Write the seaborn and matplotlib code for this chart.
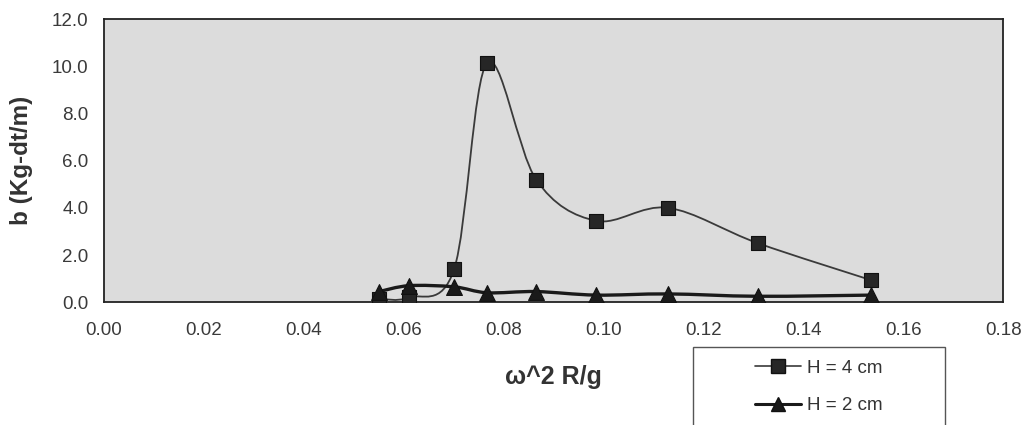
import numpy as np
import matplotlib
matplotlib.use("Agg")
import matplotlib.pyplot as plt
from matplotlib.path import Path
from matplotlib.patches import PathPatch, Rectangle
from matplotlib.lines import Line2D
import seaborn as sns
import pandas as pd

# ---- data ----
x_h4 = [0.0551, 0.0611, 0.0701, 0.0767, 0.0865, 0.0985, 0.1129, 0.1309, 0.1536]
y_h4 = [0.15, 0.20, 1.40, 10.15, 5.20, 3.45, 4.00, 2.50, 0.93]
x_h2 = [0.0551, 0.0611, 0.0701, 0.0767, 0.0865, 0.0985, 0.1129, 0.1309, 0.1536]
y_h2 = [0.45, 0.70, 0.65, 0.40, 0.45, 0.30, 0.35, 0.25, 0.30]
labels = ["H = 4 cm", "H = 2 cm"]
xticks = [0.00, 0.02, 0.04, 0.06, 0.08, 0.10, 0.12, 0.14, 0.16, 0.18]
yticks = [0.0, 2.0, 4.0, 6.0, 8.0, 10.0, 12.0]

sns.set_style("white")
plt.rcParams["font.family"] = ["Liberation Sans", "DejaVu Sans"]

fig = plt.figure(figsize=(10.28, 4.25), dpi=100)
ax = fig.add_axes([0.101, 0.289, 0.875, 0.666])
ax.set_facecolor("#dcdcdc")


def smooth_path(xs, ys, t=1.0 / 6.0):
    xs = np.asarray(xs, float)
    ys = np.asarray(ys, float)
    pts = np.column_stack([xs, ys])
    n = len(pts)
    verts = [pts[0]]
    codes = [Path.MOVETO]
    for i in range(n - 1):
        p0 = pts[i - 1] if i > 0 else pts[i]
        p1 = pts[i]
        p2 = pts[i + 1]
        p3 = pts[i + 2] if i + 2 < n else pts[i + 1]
        c1 = p1 + (p2 - p0) * t
        c2 = p2 - (p3 - p1) * t
        verts += [c1, c2, p2]
        codes += [Path.CURVE4] * 3
    return Path(verts, codes)


df4 = pd.DataFrame({"x": x_h4, "y": y_h4})
df2 = pd.DataFrame({"x": x_h2, "y": y_h2})

ax.add_patch(PathPatch(smooth_path(x_h4, y_h4), facecolor="none",
                       edgecolor="#3a3a3a", lw=1.3, zorder=3))
ax.add_patch(PathPatch(smooth_path(x_h2, y_h2), facecolor="none",
                       edgecolor="#1a1a1a", lw=2.4, zorder=3))

sns.scatterplot(data=df4, x="x", y="y", marker="s", s=95, color="#262626",
                edgecolor="#111111", linewidth=0.8, ax=ax, zorder=4)
sns.scatterplot(data=df2, x="x", y="y", marker="^", s=130, color="#1a1a1a",
                edgecolor="#111111", linewidth=0.8, ax=ax, zorder=5)

ax.set_xlim(0, 0.18)
ax.set_ylim(0, 12)
ax.set_xticks(xticks)
ax.set_yticks(yticks)
ax.set_xticklabels([f"{v:.2f}" for v in xticks], fontsize=13.5, color="#3a3a3a")
ax.set_yticklabels([f"{v:.1f}" for v in yticks], fontsize=13.5, color="#3a3a3a")
ax.tick_params(axis="both", which="major", direction="out", length=4,
               width=0.8, color="#555555")
ax.tick_params(axis="x", pad=10)
ax.tick_params(axis="y", pad=7)

for sp in ax.spines.values():
    sp.set_visible(True)
    sp.set_color("#222222")
    sp.set_linewidth(1.3)

ax.set_xlabel("ω^2 R/g", fontsize=18, fontweight="bold", color="#333333")
ax.xaxis.label.set_va("center")
ax.xaxis.set_label_coords(0.5, -0.265)
ax.set_ylabel("b (Kg-dt/m)", fontsize=17.5, fontweight="bold", color="#333333")
ax.yaxis.label.set_va("center")
ax.yaxis.set_label_coords(-0.091, 0.5)

# legend box (extends beyond bottom of figure as in reference)
fig.patches.append(Rectangle((693 / 1028, -0.1), 252 / 1028, 1 - 347 / 425 + 0.1,
                             transform=fig.transFigure, facecolor="white",
                             edgecolor="#555555", lw=1.0, zorder=1))
handles = [
    Line2D([], [], color="#3a3a3a", lw=1.2, marker="s", markersize=9.5,
           markerfacecolor="#262626", markeredgecolor="#111111"),
    Line2D([], [], color="#1a1a1a", lw=2.2, marker="^", markersize=10.5,
           markerfacecolor="#1a1a1a", markeredgecolor="#111111"),
]
fig.legend(handles, labels, loc="center", bbox_to_anchor=(819 / 1028, 1 - 387 / 425),
           frameon=False, fontsize=13.5, handlelength=2.45, handletextpad=0.3,
           labelspacing=1.1, labelcolor="#333333")

fig.savefig("out.png", dpi=100)
